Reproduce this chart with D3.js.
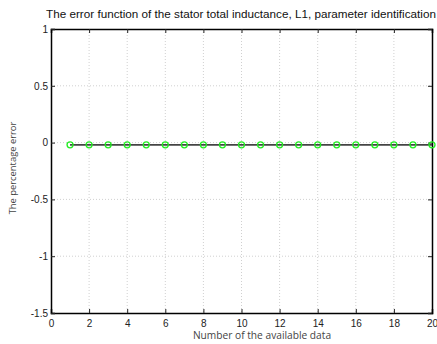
<!DOCTYPE html>
<html>
<head>
<meta charset="utf-8">
<script src="https://cdn.jsdelivr.net/npm/d3@7"></script>
<style>
  body { margin: 0; background: #fff; }
  svg { display: block; font-family: Arial, "Liberation Sans", sans-serif; }
  .grid line { stroke: #d0d0d0; stroke-dasharray: 1,2; }
</style>
</head>
<body>
<svg width="437" height="344"></svg>
<script>
// data
const samples = [1, 2, 3, 4, 5, 6, 7, 8, 9, 10, 11, 12, 13, 14, 15, 16, 17, 18, 19, 20];
const errors = [-0.02, -0.02, -0.02, -0.02, -0.02, -0.02, -0.02, -0.02, -0.02, -0.02,
                -0.02, -0.02, -0.02, -0.02, -0.02, -0.02, -0.02, -0.02, -0.02, -0.02];
const xTicks = [0, 2, 4, 6, 8, 10, 12, 14, 16, 18, 20];
const yTicks = [1, 0.5, 0, -0.5, -1, -1.5];

const svg = d3.select('svg');
const plotLeft = 51, plotRight = 432, plotTop = 29, plotBottom = 313;

const x = d3.scaleLinear().domain([0, 20]).range([plotLeft, plotRight]);
const y = d3.scaleLinear().domain([-1.5, 1]).range([plotBottom, plotTop]);

// grid
const grid = svg.append('g').attr('class', 'grid');
grid.selectAll('.gx').data(xTicks.slice(1, -1)).enter().append('line')
  .attr('x1', d => x(d)).attr('x2', d => x(d))
  .attr('y1', plotTop).attr('y2', plotBottom);
grid.selectAll('.gy').data(yTicks.slice(1, -1)).enter().append('line')
  .attr('x1', plotLeft).attr('x2', plotRight)
  .attr('y1', d => y(d)).attr('y2', d => y(d));

// axes, ticks pointing inward like matlab
const fmt = d => String(d);
svg.append('g').attr('transform', `translate(0,${plotBottom})`)
  .call(d3.axisBottom(x).tickValues(xTicks).tickSize(-4).tickPadding(7).tickFormat(fmt));
svg.append('g').attr('transform', `translate(0,${plotTop})`)
  .call(d3.axisTop(x).tickValues(xTicks).tickSize(-4).tickFormat(''));
svg.append('g').attr('transform', `translate(${plotLeft},0)`)
  .call(d3.axisLeft(y).tickValues(yTicks).tickSize(-4).tickPadding(3).tickFormat(fmt));
svg.append('g').attr('transform', `translate(${plotRight},0)`)
  .call(d3.axisRight(y).tickValues(yTicks).tickSize(-4).tickFormat(''));

svg.selectAll('.domain').attr('stroke', '#000').attr('stroke-width', 1.5);
svg.selectAll('.tick line').attr('stroke', '#222');
svg.selectAll('.tick text').attr('font-size', 10).attr('fill', '#222')
  .attr('font-family', 'Arial, "Liberation Sans", sans-serif');

// data line + markers
const pts = samples.map((s, i) => [s, errors[i]]);
svg.append('path')
  .datum(pts)
  .attr('fill', 'none')
  .attr('stroke', '#444')
  .attr('stroke-width', 1.6)
  .attr('d', d3.line().x(d => x(d[0])).y(d => y(d[1])));

svg.selectAll('circle').data(pts).enter().append('circle')
  .attr('cx', d => x(d[0]))
  .attr('cy', d => y(d[1]))
  .attr('r', 3)
  .attr('fill', 'none')
  .attr('stroke', '#22ee22')
  .attr('stroke-width', 1.3);

// labels
svg.append('text')
  .attr('x', 241).attr('y', 18)
  .attr('text-anchor', 'middle')
  .attr('font-size', 11.7)
  .attr('fill', '#111')
  .text('The error function of the stator total inductance, L1, parameter identification');

svg.append('text')
  .attr('x', 262).attr('y', 339)
  .attr('text-anchor', 'middle')
  .attr('font-size', 10.2)
  .attr('font-family', '"Open Sans", "DejaVu Sans", sans-serif')
  .attr('fill', '#444')
  .text('Number of the available data');

svg.append('text')
  .attr('transform', 'translate(16,168) rotate(-90)')
  .attr('text-anchor', 'middle')
  .attr('font-size', 9.4)
  .attr('font-family', '"Open Sans", "DejaVu Sans", sans-serif')
  .attr('fill', '#444')
  .text('The percentage error');
</script>
</body>
</html>
